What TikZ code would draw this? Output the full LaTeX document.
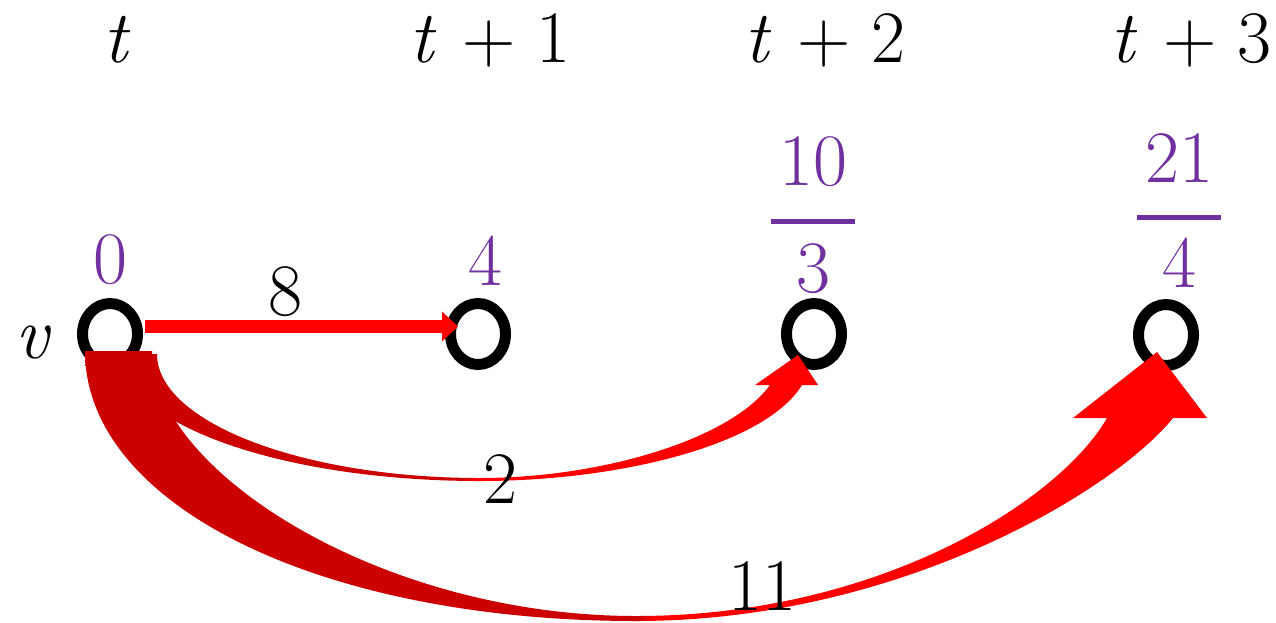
\documentclass[tikz,border=0pt]{standalone}
\usetikzlibrary{shapes.geometric,arrows.meta}
\definecolor{pur}{HTML}{7030A0}
\definecolor{dkred}{HTML}{CC0000}
\definecolor{brred}{HTML}{FF0000}
\pgfdeclarehorizontalshading{redsplit}{100bp}{color(0bp)=(dkred); color(49.6bp)=(dkred); color(50.4bp)=(brred); color(100bp)=(brred)}
\newcommand{\tplus}[1]{\textit{t}\hspace{0.34em}+\hspace{0.28em}#1}
\begin{document}
\begin{tikzpicture}[x=1pt,y=-1pt,
  vert/.style={ellipse,draw=black,line width=11pt,minimum width=55pt,minimum height=61pt,inner sep=0pt},
  big/.style={font=\fontsize{74}{80}\selectfont, inner sep=0pt, anchor=base},
  lab/.style={big, text=black},
  val/.style={big, text=pur},
  band/.style={shading=redsplit},
  straightarrow/.style={draw=brred,line width=13pt,-{Triangle[length=16pt,width=29pt]}}]
\useasboundingbox (0,0) rectangle (1276,622);

% time labels
\node[lab] (tt0) at (117,62) {\textit{t}};
\node[lab] (tt1) at (490,62) {\tplus{1}};
\node[lab] (tt2) at (825,62) {\tplus{2}};
\node[lab] (tt3) at (1191,62) {\tplus{3}};

% vertices
\node[vert] (v)  at (110,334) {};
\node[vert] (n1) at (478,334) {};
\node[vert] (n2) at (814,334) {};
\node[vert] (n3) at (1166,335) {};
\node[lab] (vl) at (33,358) {\textit{v}};

% values
\node[val] (val0) at (110,283) {0};
\node[val] (val1) at (485,285) {4};
\node[val] (num2) at (813,185) {10};
\fill[pur] (771,219) rectangle (855,224);
\node[val] (den2) at (813,292) {3};
\node[val] (num3) at (1179,182) {21};
\fill[pur] (1137,215) rectangle (1221,219.5);
\node[val] (den3) at (1179,287) {4};

% big curved arrow (v -> t+3)
\path[band] (85,351) .. controls (85,505) and (320,621) .. (636,621)
  .. controls (900,621) and (1115,490) .. (1173,418)
  -- (1207,418) -- (1157,352) -- (1073,418) -- (1107,418)
  .. controls (1060,500) and (880,616) .. (636,616)
  .. controls (380,616) and (152,470) .. (152,351) -- cycle;

% small curved arrow (v -> t+2)
\path[band] (121,354) .. controls (121,424) and (282,481) .. (480,481)
  .. controls (620,481) and (765,445) .. (802,385)
  -- (818,385) -- (798,355) -- (755,385) -- (770,385)
  .. controls (730,440) and (600,478) .. (480,478)
  .. controls (302,478) and (157,422) .. (157,354) -- cycle;

% straight arrow (v -> t+1)
\draw[straightarrow] ([xshift=2pt,yshift=7.5pt]v.east) -- ([xshift=13pt,yshift=7.5pt]n1.west);

% weights
\node[lab] (w8) at (285,315) {8};
\node[lab] (w2) at (500,503) {2};
\node[lab] (w11) at (762,610) {11};
\end{tikzpicture}
\end{document}
